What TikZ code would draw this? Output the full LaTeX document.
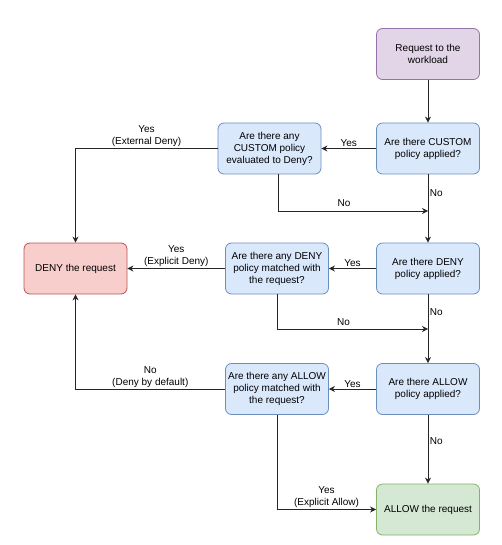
\documentclass[tikz,border=0pt]{standalone}
\usepackage{fontspec}
\setmainfont{Liberation Sans}
\usetikzlibrary{arrows.meta}
\definecolor{reqfill}{HTML}{E1D5E7}
\definecolor{reqdraw}{HTML}{9673A6}
\definecolor{qfill}{HTML}{DAE8FC}
\definecolor{qdraw}{HTML}{6C8EBF}
\definecolor{denyfill}{HTML}{F8CECC}
\definecolor{denydraw}{HTML}{B85450}
\definecolor{allowfill}{HTML}{D5E8D4}
\definecolor{allowdraw}{HTML}{82B366}

\begin{document}
\begin{tikzpicture}[x=1pt, y=-1pt,
    box/.style={rectangle, rounded corners=6pt, line width=0.8pt, align=center, minimum width=103pt, minimum height=51pt, inner sep=1pt, font=\fontsize{10}{12}\selectfont},
    start/.style={box, fill=reqfill, draw=reqdraw},
    query/.style={box, fill=qfill, draw=qdraw},
    denied/.style={box, fill=denyfill, draw=denydraw},
    allowed/.style={box, fill=allowfill, draw=allowdraw},
    flow/.style={draw=black!85, line width=0.8pt, -{Stealth[length=6pt, width=6pt]}},
    lbl/.style={font=\fontsize{10}{12}\selectfont, align=center, inner sep=1.5pt}]
        \useasboundingbox (0,0) rectangle (502,545);

        \node[start] (req) at (428,54) {Request to the\\workload};
        \node[query] (customq) at (428,148.5) {Are there CUSTOM\\policy applied?};
        \node[query] (customeval) at (269.5,148.5) {Are there any\\CUSTOM policy\\evaluated to Deny?};
        \node[query] (denyq) at (428,268.5) {Are there DENY\\policy applied?};
        \node[query] (denymatch) at (277,268.5) {Are there any DENY\\policy matched with\\the request?};
        \node[query] (allowq) at (428,389) {Are there ALLOW\\policy applied?};
        \node[query] (allowmatch) at (277,389) {Are there any ALLOW\\policy matched with\\the request?};
        \node[denied] (deny) at (75.5,268.5) {DENY the request};
        \node[allowed] (allow) at (428,509.5) {ALLOW the request};

        \coordinate (customjoin) at (428,211);
        \coordinate (denyjoin) at (428,329);

        \draw[flow] (req) -- (customq);
        \draw[flow] (customq) -- node[lbl, above]{Yes} (customeval);
        \draw[flow] (customq) -- node[lbl, anchor=west, pos=0.27]{No} (denyq);
        \draw[flow] ([xshift=8.5pt]customeval.south) |- node[lbl, above=3pt, pos=0.72]{No} (customjoin);
        \draw[flow] (customeval) -| node[lbl, above, pos=0.25]{Yes\\(External Deny)} (deny);

        \draw[flow] (denyq) -- node[lbl, above]{Yes} (denymatch);
        \draw[flow] (denymatch) -- node[lbl, above]{Yes\\(Explicit Deny)} (deny);
        \draw[flow] (denymatch) |- node[lbl, above=2pt, pos=0.72]{No} (denyjoin);
        \draw[flow] (denyq) -- node[lbl, anchor=west, pos=0.26]{No} (allowq);

        \draw[flow] (allowq) -- node[lbl, above]{Yes} (allowmatch);
        \draw[flow] (allowmatch) -| node[lbl, above, pos=0.25]{No\\(Deny by default)} (deny);
        \draw[flow] (allowmatch) |- node[lbl, above, pos=0.75]{Yes\\(Explicit Allow)} (allow);
        \draw[flow] (allowq) -- node[lbl, anchor=west, pos=0.38]{No} (allow);
    \end{tikzpicture}
\end{document}
